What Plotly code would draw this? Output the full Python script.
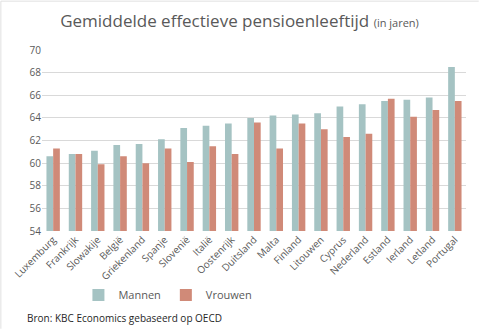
import plotly.graph_objects as go

countries = ["Luxemburg", "Frankrijk", "Slowakije", "België", "Griekenland", "Spanje",
             "Slovenië", "Italië", "Oostenrijk", "Duitsland", "Malta", "Finland",
             "Litouwen", "Cyprus", "Nederland", "Estland", "Ierland", "Letland", "Portugal"]
mannen = [60.6, 60.8, 61.1, 61.6, 61.7, 62.1, 63.1, 63.3, 63.5, 64.0, 64.2, 64.3,
          64.4, 65.0, 65.2, 65.5, 65.6, 65.8, 68.5]
vrouwen = [61.3, 60.8, 59.9, 60.6, 60.0, 61.3, 60.1, 61.5, 60.8, 63.6, 61.3, 63.5,
           63.0, 62.3, 62.6, 65.7, 64.1, 64.7, 65.5]
y_ticks = [54, 56, 58, 60, 62, 64, 66, 68, 70]

FONT = "Open Sans"
GREY = "#595959"

fig = go.Figure()
fig.add_trace(go.Bar(name="Mannen", x=countries, y=mannen, marker_color="#A5C3C3",
                     marker_line_width=0))
fig.add_trace(go.Bar(name="Vrouwen", x=countries, y=vrouwen, marker_color="#D08A78",
                     marker_line_width=0))

fig.update_layout(
    width=479, height=329,
    margin=dict(l=42, r=13, t=50, b=98, autoexpand=False),
    paper_bgcolor="white", plot_bgcolor="white",
    barmode="group", bargap=0.4, bargroupgap=0,
    font=dict(family=FONT, color=GREY, size=10),
    title=dict(
        text="Gemiddelde effectieve pensioenleeftijd <span style='font-size:11px'>(in jaren)</span>",
        x=0.5, xanchor="center", xref="container", y=0.935, yref="container", yanchor="middle",
        font=dict(family=FONT, size=17, color=GREY),
    ),
    showlegend=True,
    legend=dict(orientation="h", x=0.297, xref="paper", y=-0.354, yanchor="middle",
                xanchor="center", font=dict(size=11, color=GREY),
                itemwidth=30, traceorder="normal", tracegroupgap=0),
    xaxis=dict(tickangle=-45, showline=False, ticks="", automargin=False,
               tickfont=dict(size=10, color=GREY)),
    yaxis=dict(range=[54, 70], tickvals=y_ticks, showgrid=True, gridcolor="#D9D9D9",
               gridwidth=1, zeroline=False, showline=False, ticks="", automargin=False,
               tickfont=dict(size=10, color=GREY)),
)

fig.add_annotation(text="Bron: KBC Economics gebaseerd op OECD", xref="paper", yref="paper",
                   x=-0.04, y=-0.48, xanchor="left", yanchor="middle", showarrow=False,
                   font=dict(family=FONT, size=10, color="#262626"))

# faint frame on top and left
fig.add_shape(type="line", xref="paper", yref="paper", x0=-0.097, x1=1.03, y0=1.27, y1=1.27,
              line=dict(color="#E0E0E0", width=1))
fig.add_shape(type="line", xref="paper", yref="paper", x0=-0.097, x1=-0.097, y0=1.27, y1=-0.54,
              line=dict(color="#E0E0E0", width=1))

fig.write_html("out.html")
